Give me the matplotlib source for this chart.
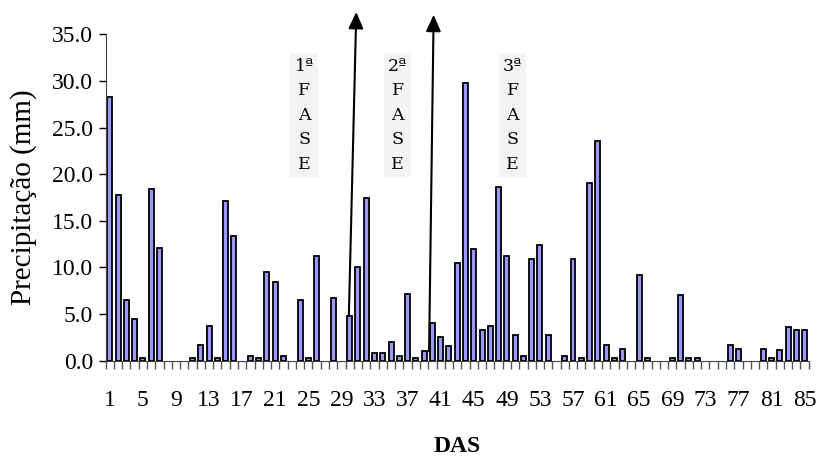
import numpy as np
import matplotlib.pyplot as plt

# precipitation per day (DAS = dias apos semeadura)
days = np.arange(1, 86)
precip = [28.3, 17.8, 6.5, 4.5, 0.3, 18.4, 12.1, 0.0, 0.0, 0.0,
          0.3, 1.7, 3.7, 0.3, 17.1, 13.4, 0.0, 0.5, 0.3, 9.5,
          8.4, 0.5, 0.0, 6.5, 0.3, 11.2, 0.0, 6.7, 0.0, 4.8,
          10.0, 17.4, 0.8, 0.8, 2.0, 0.5, 7.2, 0.3, 1.0, 4.0,
          2.5, 1.6, 10.5, 29.8, 12.0, 3.3, 3.7, 18.6, 11.2, 2.8,
          0.5, 10.9, 12.4, 2.8, 0.0, 0.5, 10.9, 0.3, 19.1, 23.6,
          1.7, 0.3, 1.3, 0.0, 9.2, 0.3, 0.0, 0.0, 0.3, 7.0,
          0.3, 0.3, 0.0, 0.0, 0.0, 1.7, 1.3, 0.0, 0.0, 1.3,
          0.3, 1.1, 3.6, 3.3, 3.3]
yticks = [0, 5, 10, 15, 20, 25, 30, 35]
xlabels_at = list(range(1, 86, 4))

# phase markers: arrow start and tip, text position
arrows = [((29.9, 4.8), (30.8, 37.4)), ((39.6, 1.0), (40.15, 37.1))]
fases = ["1ª", "2ª", "3ª"]
fase_x = [24.5, 35.8, 49.7]

plt.rcParams['font.family'] = ['Liberation Serif', 'DejaVu Serif']

fig = plt.figure(figsize=(8.19, 4.58), dpi=100)
ax = fig.add_axes([0.129, 0.2125, 0.8585, 0.7125])

p = np.array(precip)
nz = p > 0  # days without rain have no bar drawn
ax.bar(days[nz], p[nz], width=0.6, color='#9999FF', edgecolor='black', linewidth=1.3)

ax.set_xlim(0.5, 85.5)
ax.set_ylim(0, 35)
ax.set_yticks(yticks)
ax.set_yticklabels([f"{v:.1f}" for v in yticks], fontsize=17)
ax.set_xticks(xlabels_at)
ax.set_xticklabels([str(v) for v in xlabels_at], fontsize=17)
ax.set_xticks(np.arange(0.5, 86, 1), minor=True)
ax.tick_params(axis='x', which='major', length=0, pad=21)
ax.tick_params(axis='x', which='minor', length=6, width=1, color='#555555', direction='out')
ax.tick_params(axis='y', length=5, width=1, direction='out', pad=4)

for s in ['top', 'right']:
    ax.spines[s].set_visible(False)
ax.spines['left'].set_color('#444444')
ax.spines['bottom'].set_color('#444444')

ax.set_ylabel("Precipitação (mm)", fontsize=21, labelpad=11)
ax.set_xlabel("DAS", fontsize=17, fontweight='bold', labelpad=18)

for start, tip in arrows:
    ax.annotate("", xy=tip, xytext=start, annotation_clip=False,
                arrowprops=dict(arrowstyle='-|>,head_length=1.0,head_width=0.45',
                                color='black', lw=1.5, shrinkA=0, shrinkB=0))

for lab, x in zip(fases, fase_x):
    ax.text(x, 32.5, lab + "\nF\nA\nS\nE", ha='center', va='top', fontsize=12.5,
            family='DejaVu Serif', linespacing=1.58, clip_on=False,
            bbox=dict(facecolor='#f4f4f4', edgecolor='none', pad=3))

fig.savefig("out.png", dpi=100)
